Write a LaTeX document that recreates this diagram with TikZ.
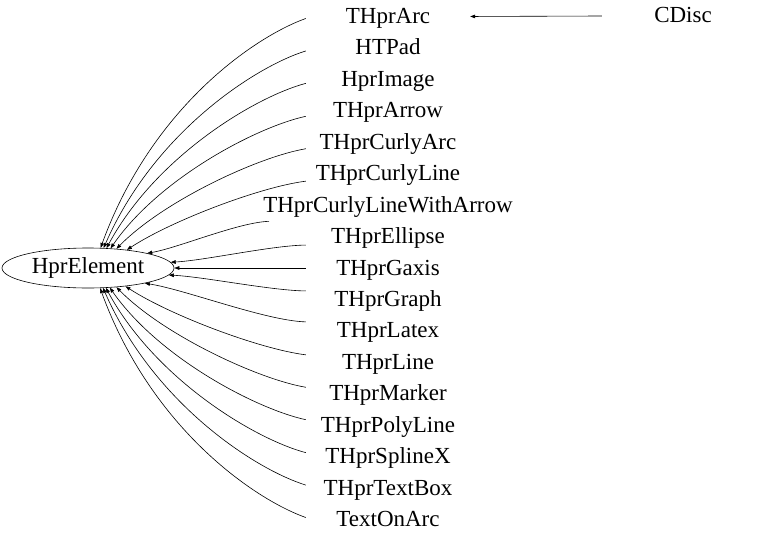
\documentclass[tikz,border=0pt]{standalone}
\usepackage{fontspec}
\setmainfont{Liberation Serif}
\usetikzlibrary{shapes.geometric,arrows.meta,calc}
\begin{document}
\begin{tikzpicture}[x=1pt,y=-1pt,
  lbl/.style={font=\fontsize{23}{27}\selectfont, inner sep=0pt, minimum width=164pt,
    minimum height=32pt, text height=17pt, text depth=3pt},
  inh/.style={draw, line width=0.6pt, -{Triangle[length=5pt,width=3.6pt]}}]
\path[fill=white,use as bounding box] (0,0) rectangle (768,538);
\node[draw, ellipse, minimum width=172pt, minimum height=40pt, inner sep=0pt,
  line width=0.6pt, font=\fontsize{23}{27}\selectfont] (e) at (88,268) {HprElement};
\foreach \i/\t in {0/THprArc,1/HTPad,2/HprImage,3/THprArrow,4/THprCurlyArc,
  5/THprCurlyLine,6/THprCurlyLineWithArrow,7/THprEllipse,8/THprGaxis,9/THprGraph,
  10/THprLatex,11/THprLine,12/THprMarker,13/THprPolyLine,14/THprSplineX,
  15/THprTextBox,16/TextOnArc}
  \node[lbl] (n\i) at (388,{268+31.44*(\i-8)}) {\t};
\node[lbl, minimum width=162pt] (cd) at (683,16) {CDisc};
\draw[inh] (cd.west) -- (n0.east);
% curved connectors
\foreach \i/\off/\ang/\be/\ka in {0/2/58.8/.08/.613, 1/3/52.7/.08/.587,
  2/4/47.4/.08/.56, 3/5.5/41.3/.08/.533, 4/6.5/34.0/.08/.48, 5/7.5/25.3/.08/.427,
  7/8.5/4.5/.02/.1, 9/-8.5/355.5/.02/.1, 10/-9/345.6/.03/.163,
  11/-7.5/334.7/.08/.427, 12/-6.5/326/.08/.48, 13/-5.5/318.7/.08/.533,
  14/-4/312.6/.08/.56, 15/-3/307.3/.08/.587, 16/-2/301.2/.08/.613}
  \draw[inh] let \p1=($(n\i.west)+(0,\off)$), \p2=(e.\ang) in
    (\p1) .. controls ($(\p1)+({-0.25*(\x1-\x2)},{-\be*(\y1-\y2)})$)
    and ($(\p2)+({0.25*(\x1-\x2)},{\ka*(\y1-\y2)})$) .. (\p2);
\draw[inh] let \p1=($(n6.south)+(-119,0)$), \p2=(e.14.4) in
    (\p1) .. controls ($(\p1)+({-0.25*(\x1-\x2)},{-0.03*(\y1-\y2)})$)
    and ($(\p2)+({0.25*(\x1-\x2)},{0.163*(\y1-\y2)})$) .. (\p2);
\draw[inh] (n8.west) -- (e.east);
\end{tikzpicture}
\end{document}
